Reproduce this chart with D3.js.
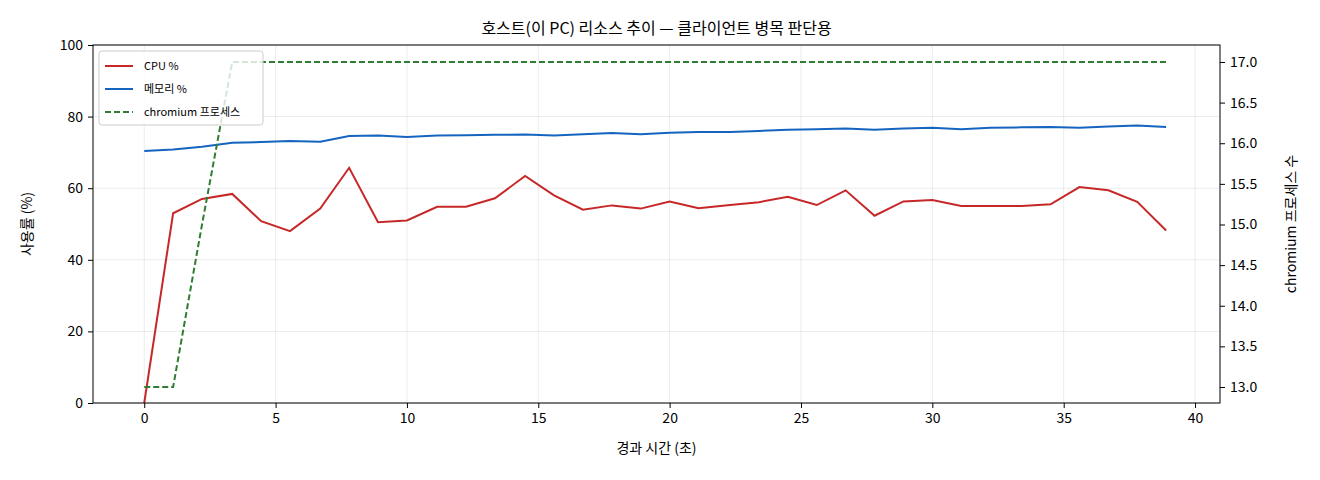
<!DOCTYPE html>
<html><head><meta charset="utf-8">
<script src="https://cdn.jsdelivr.net/npm/d3@7"></script>
<style>
body{margin:0;background:#fff;font-family:"Noto Sans CJK KR","DejaVu Sans",sans-serif;}
svg text{font-family:"Noto Sans CJK KR","DejaVu Sans",sans-serif;fill:#000;}
</style></head><body>
<svg id="chart" width="1320" height="480"></svg>
<script>
const times = [0, 1.1, 2.2, 3.35, 4.45, 5.55, 6.7, 7.8, 8.9, 10, 11.15, 12.25, 13.35, 14.5, 15.6, 16.7, 17.8, 18.9,
  20, 21.1, 22.3, 23.4, 24.5, 25.6, 26.7, 27.8, 28.9, 30, 31.1, 32.2, 33.4, 34.5, 35.6, 36.7, 37.8, 38.9];
const cpu = [0, 53, 57, 58.4, 50.8, 48, 54.3, 65.7, 50.5, 51, 54.8, 54.8, 57.2, 63.4, 58, 54, 55.2, 54.3,
  56.3, 54.4, 55.3, 56.1, 57.6, 55.3, 59.4, 52.3, 56.3, 56.7, 55, 55, 55, 55.5, 60.3, 59.4, 56.2, 48.2];
const mem = [70.4, 70.8, 71.6, 72.7, 72.9, 73.2, 73.0, 74.6, 74.7, 74.3, 74.7, 74.8, 74.9, 75.0, 74.7, 75.1, 75.4,
  75.1, 75.5, 75.7, 75.7, 76.0, 76.3, 76.5, 76.7, 76.3, 76.7, 76.9, 76.5, 76.9, 77.0, 77.1, 76.9, 77.2, 77.5, 77.1];
const chromium = [13, 13, 15, 17, 17, 17, 17, 17, 17, 17, 17, 17, 17, 17, 17, 17, 17, 17,
  17, 17, 17, 17, 17, 17, 17, 17, 17, 17, 17, 17, 17, 17, 17, 17, 17, 17];
const xTicks = [0, 5, 10, 15, 20, 25, 30, 35, 40];
const yTicks = [0, 20, 40, 60, 80, 100];
const y2Ticks = [13.0, 13.5, 14.0, 14.5, 15.0, 15.5, 16.0, 16.5, 17.0];

const svg = d3.select('#chart');
const L = 93, R = 1220, T = 45, B = 403;
const x = d3.scaleLinear().domain([-1.95, 40.95]).range([L, R]);
const y = d3.scaleLinear().domain([0, 100]).range([B, T]);
const y2 = d3.scaleLinear().domain([12.803, 17.209]).range([B, T]);

// grid
const grid = svg.append('g').attr('stroke', '#000').attr('stroke-opacity', 0.1).attr('stroke-width', 0.8);
xTicks.forEach(t => grid.append('line').attr('x1', x(t)).attr('x2', x(t)).attr('y1', T).attr('y2', B));
yTicks.forEach(t => grid.append('line').attr('x1', L).attr('x2', R).attr('y1', y(t)).attr('y2', y(t)));

function styleAxis(g) {
  g.selectAll('text').attr('font-size', 14).attr('fill', '#000');
  g.selectAll('line').attr('stroke', '#000');
  g.select('.domain').remove();
}
svg.append('g').attr('transform', `translate(0,${B})`)
  .call(d3.axisBottom(x).tickValues(xTicks).tickSize(5).tickPadding(5)).call(styleAxis);
svg.append('g').attr('transform', `translate(${L},0)`)
  .call(d3.axisLeft(y).tickValues(yTicks).tickSize(5).tickPadding(5)).call(styleAxis);
svg.append('g').attr('transform', `translate(${R},0)`)
  .call(d3.axisRight(y2).tickValues(y2Ticks).tickFormat(d3.format('.1f')).tickSize(5).tickPadding(5)).call(styleAxis);

const line = (yy, vals) => d3.line().x((d, i) => x(times[i])).y(d => yy(d))(vals);
svg.append('path').attr('d', line(y, cpu)).attr('fill', 'none').attr('stroke', '#c62828').attr('stroke-width', 2);
svg.append('path').attr('d', line(y, mem)).attr('fill', 'none').attr('stroke', '#1565c0').attr('stroke-width', 2);
svg.append('path').attr('d', line(y2, chromium)).attr('fill', 'none').attr('stroke', '#2e7d32')
  .attr('stroke-width', 2).attr('stroke-dasharray', '6,3');

svg.append('rect').attr('x', L).attr('y', T).attr('width', R - L).attr('height', B - T)
  .attr('fill', 'none').attr('stroke', '#000').attr('stroke-width', 1);

// legend
const lg = svg.append('g').attr('transform', 'translate(99,51)');
lg.append('rect').attr('width', 164).attr('height', 74).attr('rx', 3).attr('fill', '#fff')
  .attr('fill-opacity', 0.8).attr('stroke', '#ccc');
[['CPU %', '#c62828', null], ['메모리 %', '#1565c0', null], ['chromium 프로세스', '#2e7d32', '6,3']].forEach((d, i) => {
  const yy = 15 + i * 23;
  lg.append('line').attr('x1', 6).attr('x2', 34).attr('y1', yy).attr('y2', yy)
    .attr('stroke', d[1]).attr('stroke-width', 2).attr('stroke-dasharray', d[2]);
  lg.append('text').attr('x', 45).attr('y', yy + 4).attr('font-size', 11).text(d[0]);
});

svg.append('text').attr('x', (L + R) / 2).attr('y', 34).attr('text-anchor', 'middle').attr('font-size', 16)
  .text('호스트(이 PC) 리소스 추이 — 클라이언트 병목 판단용');
svg.append('text').attr('x', (L + R) / 2).attr('y', 453).attr('text-anchor', 'middle').attr('font-size', 14)
  .text('경과 시간 (초)');
svg.append('text').attr('transform', `translate(32,${(T + B) / 2}) rotate(-90)`).attr('text-anchor', 'middle')
  .attr('font-size', 14).text('사용률 (%)');
svg.append('text').attr('transform', `translate(1296,${(T + B) / 2}) rotate(-90)`).attr('text-anchor', 'middle')
  .attr('font-size', 14).text('chromium 프로세스 수');
</script></body></html>
